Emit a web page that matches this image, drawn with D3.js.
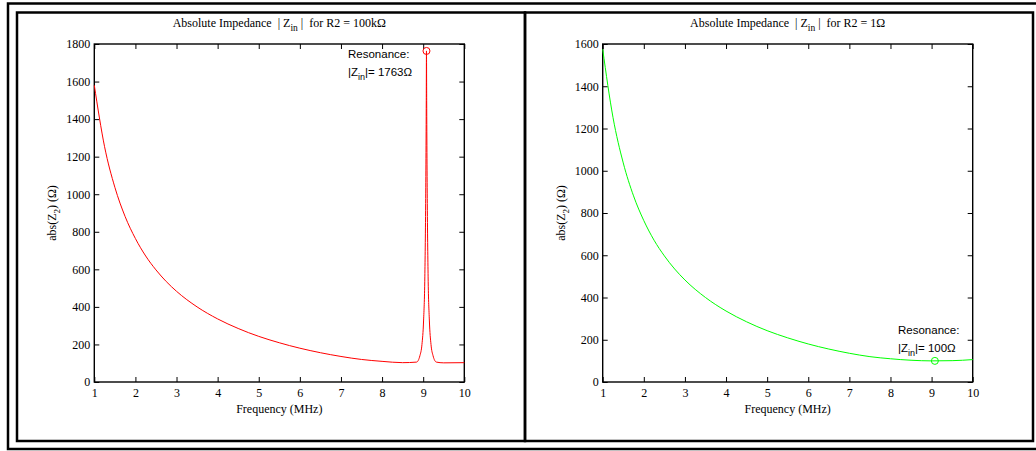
<!DOCTYPE html>
<html>
<head>
<meta charset="utf-8">
<script src="https://cdn.jsdelivr.net/npm/d3@7"></script>
<style>
  body { margin: 0; background: #fff; }
  svg { display: block; }
</style>
</head>
<body>
<script>
const width = 1036;
const height = 451;

// R2 = 100kOhm : input impedance with the parallel resonance spike
const freqHigh = [1, 1.25, 1.5, 1.75, 2, 2.25, 2.5, 2.75, 3, 3.5, 4, 4.5, 5, 5.5, 6, 6.5, 7, 7.5, 8, 8.5,
  8.84, 8.92, 8.97, 9.01, 9.04, 9.06, 9.075, 9.08, 9.085, 9.1, 9.12, 9.15, 9.19, 9.24, 9.32, 9.5, 10];
const zHigh = [1580, 1253, 1037, 881, 764, 671, 597, 535, 483, 400, 336, 285, 243, 209, 180, 156, 136, 120, 110, 103,
  106, 140, 200, 330, 560, 950, 1500, 1763, 1500, 950, 560, 330, 200, 140, 106, 102, 103];

// R2 = 1Ohm : series resonance minimum
const freqLow = [1, 1.25, 1.5, 1.75, 2, 2.25, 2.5, 2.75, 3, 3.5, 4, 4.5, 5, 5.5, 6, 6.5, 7, 7.5, 8, 8.5, 9, 9.5, 10];
const zLow = [1575, 1253, 1037, 881, 764, 671, 597, 535, 483, 400, 336, 285, 243, 209, 180, 156, 136, 120, 110, 103, 100, 101, 106];

const xTicks = [1, 2, 3, 4, 5, 6, 7, 8, 9, 10];
const yTicksHigh = [0, 200, 400, 600, 800, 1000, 1200, 1400, 1600, 1800];
const yTicksLow = [0, 200, 400, 600, 800, 1000, 1200, 1400, 1600];

const resonanceHigh = { f: 9.08, z: 1763, label: "1763Ω" };
const resonanceLow = { f: 9.08, z: 100, label: "100Ω" };

const serif = "'Liberation Serif', 'DejaVu Serif', serif";
const sans = "'Liberation Sans', Arial, sans-serif";

const svg = d3
  .select("body")
  .append("svg")
  .attr("width", width)
  .attr("height", height);

// frames
svg
  .append("rect")
  .attr("x", 8)
  .attr("y", 3.5)
  .attr("width", 1040)
  .attr("height", 445.5)
  .attr("fill", "none")
  .attr("stroke", "#000")
  .attr("stroke-width", 2.5);

[[17, 525], [525, 1033]].forEach(([x0, x1]) => {
  svg
    .append("rect")
    .attr("x", x0)
    .attr("y", 12.5)
    .attr("width", x1 - x0)
    .attr("height", 428.5)
    .attr("fill", "none")
    .attr("stroke", "#000")
    .attr("stroke-width", 2.5);
});

const drawPanel = (opts) => {
  const x = d3.scaleLinear().domain([1, 10]).range([opts.left, opts.left + 370]);
  const y = d3.scaleLinear().domain([0, opts.yMax]).range([382, 44]);
  const g = svg.append("g");

  const styleAxis = (sel) => {
    sel.select(".domain").remove();
    sel.selectAll("line").attr("stroke", "#000");
    sel
      .selectAll("text")
      .attr("font-family", serif)
      .attr("font-size", 12)
      .attr("fill", "#000");
  };

  g.append("g")
    .attr("transform", "translate(0,382)")
    .call(d3.axisBottom(x).tickValues(xTicks).tickSizeInner(-5).tickSizeOuter(0).tickPadding(6).tickFormat(d3.format("d")))
    .call(styleAxis);
  g.append("g")
    .attr("transform", "translate(0,44)")
    .call(d3.axisTop(x).tickValues(xTicks).tickSizeInner(-5).tickSizeOuter(0).tickFormat(""))
    .call(styleAxis);
  g.append("g")
    .attr("transform", `translate(${opts.left},0)`)
    .call(d3.axisLeft(y).tickValues(opts.yTicks).tickSizeInner(-5).tickSizeOuter(0).tickPadding(4).tickFormat(d3.format("d")))
    .call(styleAxis);
  g.append("g")
    .attr("transform", `translate(${opts.left + 370},0)`)
    .call(d3.axisRight(y).tickValues(opts.yTicks).tickSizeInner(-5).tickSizeOuter(0).tickFormat(""))
    .call(styleAxis);

  g.append("rect")
    .attr("x", x(1))
    .attr("y", y(opts.yMax))
    .attr("width", x(10) - x(1))
    .attr("height", y(0) - y(opts.yMax))
    .attr("fill", "none")
    .attr("stroke", "#000")
    .attr("stroke-width", 1.4);

  const points = opts.freq.map((f, i) => [f, opts.z[i]]);
  const line = d3
    .line()
    .x((d) => x(d[0]))
    .y((d) => y(d[1]))
    .curve(d3.curveMonotoneX);

  g.append("path")
    .datum(points)
    .attr("d", line)
    .attr("fill", "none")
    .attr("stroke", opts.color)
    .attr("stroke-width", 1);

  g.append("circle")
    .attr("cx", x(opts.res.f))
    .attr("cy", y(opts.res.z))
    .attr("r", 3.5)
    .attr("fill", "none")
    .attr("stroke", opts.color)
    .attr("stroke-width", 1);

  // annotation
  const ann = g
    .append("text")
    .attr("font-family", sans)
    .attr("font-size", 11.5)
    .attr("fill", "#000");
  ann.append("tspan").attr("x", opts.annX).attr("y", opts.annY).text("Resonance:");
  ann.append("tspan").attr("x", opts.annX).attr("y", opts.annY + 18).text("|Z");
  ann.append("tspan").attr("dy", 4).attr("font-size", 9).text("in");
  ann.append("tspan").attr("dy", -4).text("|= " + opts.res.label);

  // title
  const title = g
    .append("text")
    .attr("x", (x(1) + x(10)) / 2)
    .attr("y", 27)
    .attr("text-anchor", "middle")
    .attr("font-family", serif)
    .attr("font-size", 12)
    .attr("fill", "#000");
  title.append("tspan").text("Absolute Impedance\u00a0\u00a0|\u00a0Z");
  title.append("tspan").attr("dy", 4).attr("font-size", 9.5).text("in");
  title.append("tspan").attr("dy", -4).text("\u00a0|\u00a0\u00a0for R2 = " + opts.r2);

  // axis labels
  g.append("text")
    .attr("x", (x(1) + x(10)) / 2)
    .attr("y", 413)
    .attr("text-anchor", "middle")
    .attr("font-family", serif)
    .attr("font-size", 12)
    .attr("fill", "#000")
    .text("Frequency (MHz)");

  const yl = g
    .append("text")
    .attr("transform", `translate(${opts.left - 38},${(y(0) + y(opts.yMax)) / 2}) rotate(-90)`)
    .attr("text-anchor", "middle")
    .attr("font-family", serif)
    .attr("font-size", 12)
    .attr("fill", "#000");
  yl.append("tspan").text("abs(Z");
  yl.append("tspan").attr("dy", 4).attr("font-size", 9).text("2");
  yl.append("tspan").attr("dy", -4).text(")\u00a0(Ω)");
};

drawPanel({
  left: 94.3,
  yMax: 1800,
  yTicks: yTicksHigh,
  freq: freqHigh,
  z: zHigh,
  color: "#ff0000",
  res: resonanceHigh,
  r2: "100kΩ",
  annX: 348,
  annY: 58,
});

drawPanel({
  left: 602.7,
  yMax: 1600,
  yTicks: yTicksLow,
  freq: freqLow,
  z: zLow,
  color: "#00ff00",
  res: resonanceLow,
  r2: "1Ω",
  annX: 898,
  annY: 334,
});
</script>
</body>
</html>
